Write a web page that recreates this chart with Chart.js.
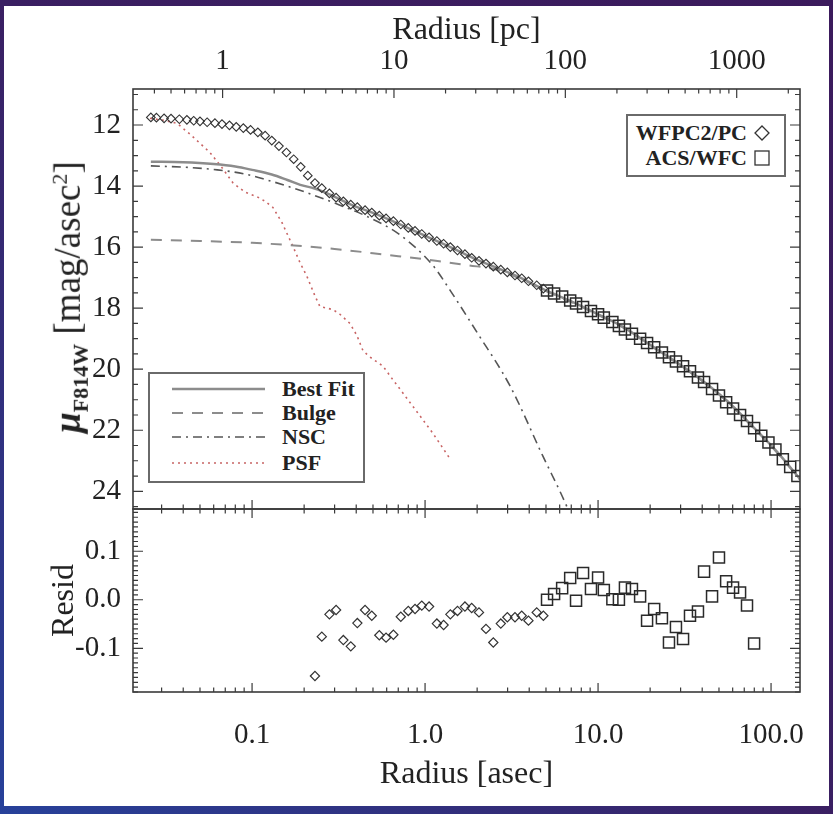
<!DOCTYPE html>
<html>
<head>
<meta charset="utf-8">
<script src="https://cdn.jsdelivr.net/npm/chart.js@4.4.0/dist/chart.umd.min.js"></script>
<style>
  html, body { margin: 0; padding: 0; }
  body {
    width: 833px; height: 814px; position: relative; overflow: hidden;
    background: linear-gradient(to bottom left, #3b1a5c 0%, #3a1f62 50%, #27419a 100%);
    font-family: "Liberation Serif", serif;
  }
  #sheet { position: absolute; left: 4px; top: 6px; width: 825px; height: 800px; background: #fff; }
  canvas { position: absolute; left: 0; top: 0; }
  #ytitle {
    position: absolute; left: 70px; top: 297px; white-space: nowrap; color: #222;
    font-size: 37px; transform: translate(-50%, -50%) rotate(-90deg);
  }
  #ytitle sub { font-size: 22px; font-weight: bold; }
  #ytitle sup { font-size: 22px; }
  .legend { position: absolute; box-sizing: border-box; border: 2px solid #6a6a6a; background: #fff; }
  .legend span { position: absolute; font: bold 22px "Liberation Serif", serif; line-height: 24px; color: #222; white-space: nowrap; }
  .legend svg { position: absolute; left: 0; top: 0; }
</style>
</head>
<body>
<div id="sheet"></div>
<canvas id="bottomCanvas" width="833" height="814"></canvas>
<canvas id="topCanvas" width="833" height="814"></canvas>
<div id="ytitle"><b><i>μ</i></b><sub>F814W</sub> [mag/asec<sup>2</sup>]</div>

<div class="legend" style="left:626px; top:114px; width:160px; height:63px;">
  <span style="right:37px; top:5px;">WFPC2/PC</span>
  <span style="right:37px; top:30px;">ACS/WFC</span>
  <svg width="156" height="59">
    <polygon points="134,10 141,17 134,24 127,17" fill="none" stroke="#333" stroke-width="1.3"/>
    <rect x="127" y="35" width="14" height="14" fill="none" stroke="#333" stroke-width="1.3"/>
  </svg>
</div>

<div class="legend" style="left:148px; top:372px; width:217px; height:111px;">
  <span style="left:132px; top:3px;">Best Fit</span>
  <span style="left:132px; top:27px;">Bulge</span>
  <span style="left:132px; top:51px;">NSC</span>
  <span style="left:132px; top:77px;">PSF</span>
  <svg width="213" height="107">
    <line x1="22" y1="15" x2="115" y2="15" stroke="#8c8c8c" stroke-width="2.5"/>
    <line x1="22" y1="39" x2="115" y2="39" stroke="#8c8c8c" stroke-width="2" stroke-dasharray="11 9"/>
    <line x1="22" y1="63" x2="115" y2="63" stroke="#555" stroke-width="1.6" stroke-dasharray="9 5 2 5"/>
    <line x1="22" y1="89" x2="115" y2="89" stroke="#c86464" stroke-width="1.6" stroke-dasharray="2 4"/>
  </svg>
</div>

<script>
// radius in arcsec, surface brightness in mag/asec^2
const wfpcRadius = [0.026, 0.028, 0.031, 0.034, 0.038, 0.042, 0.046, 0.050, 0.055, 0.061, 0.067, 0.074, 0.081, 0.089, 0.098, 0.108, 0.119, 0.130, 0.143, 0.158, 0.174, 0.191, 0.210, 0.231, 0.253, 0.280, 0.306, 0.337, 0.372, 0.406, 0.450, 0.492, 0.544, 0.595, 0.656, 0.724, 0.800, 0.875, 0.957, 1.055, 1.17, 1.28, 1.40, 1.54, 1.70, 1.86, 2.05, 2.25, 2.48, 2.74, 2.99, 3.31, 3.62, 3.96, 4.42, 4.83];
const wfpcMag = [11.75, 11.76, 11.78, 11.79, 11.81, 11.83, 11.86, 11.88, 11.91, 11.94, 11.97, 12.01, 12.06, 12.10, 12.16, 12.24, 12.35, 12.51, 12.69, 12.90, 13.12, 13.37, 13.66, 13.90, 14.07, 14.24, 14.38, 14.50, 14.61, 14.69, 14.79, 14.87, 14.97, 15.06, 15.15, 15.26, 15.37, 15.47, 15.57, 15.68, 15.80, 15.89, 16.00, 16.11, 16.23, 16.35, 16.45, 16.54, 16.64, 16.74, 16.83, 16.93, 17.02, 17.12, 17.25, 17.36];

const acsRadius = [5.07, 5.57, 6.2, 6.9, 7.46, 8.19, 9.1, 10.0, 10.8, 12.1, 13.2, 14.3, 15.7, 17.5, 19.2, 21.1, 23.4, 25.7, 28.2, 31.0, 34.0, 37.8, 41.0, 45.6, 50.0, 55.0, 60.3, 66.2, 72.6, 79.8, 87.8, 96.6, 106, 117, 129, 142];
const acsMag = [17.42, 17.52, 17.62, 17.75, 17.85, 17.96, 18.09, 18.20, 18.31, 18.45, 18.58, 18.70, 18.84, 19.00, 19.14, 19.28, 19.45, 19.61, 19.75, 19.90, 20.07, 20.27, 20.42, 20.65, 20.86, 21.08, 21.29, 21.50, 21.70, 21.93, 22.18, 22.40, 22.63, 22.95, 23.20, 23.50];

const fitRadius = [0.026, 0.04, 0.06, 0.08, 0.1, 0.13, 0.16, 0.19, 0.23, 0.28, 0.37, 0.5, 0.65, 1.0, 1.4, 2.0, 2.5, 3.5, 5, 7, 10, 14, 20, 28, 40, 56, 80, 110, 147];
const fitMag = [13.2, 13.22, 13.28, 13.36, 13.47, 13.62, 13.8, 13.96, 14.08, 14.27, 14.6, 14.88, 15.15, 15.63, 16.0, 16.42, 16.64, 16.98, 17.42, 17.78, 18.2, 18.62, 19.2, 19.75, 20.37, 21.05, 21.93, 22.75, 23.6];

const bulgeRadius = [0.026, 0.05, 0.1, 0.2, 0.3, 0.5, 0.7, 1.0, 1.34, 1.8, 2.5, 3.5, 5, 7, 10, 14, 20, 28, 40, 56, 80, 110, 147];
const bulgeMag = [15.76, 15.8, 15.86, 15.97, 16.06, 16.2, 16.3, 16.4, 16.5, 16.6, 16.72, 17.02, 17.44, 17.8, 18.22, 18.64, 19.22, 19.77, 20.39, 21.07, 21.95, 22.77, 23.62];

const nscRadius = [0.026, 0.04, 0.063, 0.09, 0.122, 0.17, 0.238, 0.33, 0.463, 0.717, 1.11, 1.39, 2.0, 3.1, 4.8, 6.6, 7.5];
const nscMag = [13.34, 13.38, 13.47, 13.6, 13.8, 14.05, 14.34, 14.65, 15.0, 15.6, 16.6, 17.4, 18.8, 20.55, 22.85, 24.5, 25.3];

const psfRadius = [0.0257, 0.0314, 0.0369, 0.0438, 0.050, 0.0571, 0.0671, 0.0776, 0.0911, 0.107, 0.119, 0.132, 0.149, 0.173, 0.189, 0.208, 0.231, 0.247, 0.271, 0.294, 0.322, 0.368, 0.404, 0.438, 0.480, 0.571, 0.643, 0.718, 0.899, 1.11, 1.40];
const psfMag = [11.78, 11.85, 11.95, 12.3, 12.6, 12.9, 13.4, 13.9, 14.2, 14.35, 14.5, 14.7, 15.2, 16.0, 16.5, 16.97, 17.6, 17.95, 18.0, 18.05, 18.2, 18.5, 18.9, 19.4, 19.6, 19.9, 20.3, 20.66, 21.4, 22.1, 22.95];

// residuals (data - fit)
const wfpcResidRadius = [0.231, 0.253, 0.280, 0.306, 0.337, 0.372, 0.406, 0.450, 0.492, 0.544, 0.595, 0.656, 0.724, 0.800, 0.875, 0.957, 1.055, 1.17, 1.28, 1.40, 1.54, 1.70, 1.86, 2.05, 2.25, 2.48, 2.74, 2.99, 3.31, 3.62, 3.96, 4.42, 4.83];
const wfpcResid = [-0.157, -0.076, -0.030, -0.021, -0.083, -0.096, -0.048, -0.021, -0.033, -0.073, -0.078, -0.072, -0.035, -0.023, -0.019, -0.012, -0.014, -0.049, -0.052, -0.030, -0.023, -0.014, -0.017, -0.026, -0.060, -0.088, -0.049, -0.036, -0.036, -0.033, -0.043, -0.026, -0.033];
const acsResidRadius = [5.07, 5.57, 6.2, 6.9, 7.46, 8.19, 9.1, 10.0, 10.8, 12.1, 13.2, 14.3, 15.7, 17.5, 19.2, 21.1, 23.4, 25.7, 28.2, 31.0, 34.0, 37.8, 41.0, 45.6, 50.0, 55.0, 60.3, 66.2, 72.6, 79.8];
const acsResid = [0.000, 0.012, 0.024, 0.045, -0.002, 0.055, 0.022, 0.046, 0.020, 0.001, 0.000, 0.025, 0.022, 0.007, -0.043, -0.019, -0.038, -0.088, -0.056, -0.081, -0.033, -0.024, 0.058, 0.007, 0.087, 0.038, 0.025, 0.015, -0.012, -0.090];

// axes
const asecMin = 0.0205;
const asecMax = 147;
const pcPerAsec = 1 / 0.0628;
const asecTicks = [0.1, 1, 10, 100];
const asecLabels = ["0.1", "1.0", "10.0", "100.0"];
const pcTicks = [1, 10, 100, 1000];
const pcLabels = ["1", "10", "100", "1000"];
const magTicks = [12, 14, 16, 18, 20, 22, 24];
const residTicks = [-0.1, 0, 0.1];
const residLabels = ["-0.1", "0.0", "0.1"];

Chart.defaults.font.family = "'Liberation Serif', 'Times New Roman', serif";
Chart.defaults.font.size = 29;
Chart.defaults.color = "#222";

function pts(xs, ys) {
  return xs.map((x, i) => ({ x: x, y: ys[i] }));
}

function logMinors(lo, hi) {
  const out = [];
  for (let d = Math.floor(Math.log10(lo)); d <= Math.ceil(Math.log10(hi)); d++) {
    for (let k = 2; k <= 9; k++) {
      const v = k * Math.pow(10, d);
      if (v > lo && v < hi) out.push(v);
    }
  }
  return out;
}

function stepMinors(lo, hi, step, majorEvery) {
  const out = [];
  for (let k = Math.ceil(lo / step); k <= Math.floor(hi / step); k++) {
    if (k % majorEvery !== 0) out.push(k * step);
  }
  return out;
}

// inward tick marks and the box, placed with the chart's own scales
const frameTicks = {
  id: "frameTicks",
  afterDatasetsDraw(chart, args, opts) {
    const { ctx, chartArea: a } = chart;
    ctx.save();
    ctx.strokeStyle = "#3a3a3a";
    ctx.lineWidth = 1.2;
    ctx.beginPath();
    opts.marks.forEach((m) => {
      const s = chart.scales[m.scale];
      m.values.forEach((v) => {
        const p = s.getPixelForValue(v);
        if (m.edge === "top") { ctx.moveTo(p, a.top); ctx.lineTo(p, a.top + m.len); }
        if (m.edge === "bottom") { ctx.moveTo(p, a.bottom); ctx.lineTo(p, a.bottom - m.len); }
        if (m.edge === "left") { ctx.moveTo(a.left, p); ctx.lineTo(a.left + m.len, p); }
        if (m.edge === "right") { ctx.moveTo(a.right, p); ctx.lineTo(a.right - m.len, p); }
      });
    });
    ctx.stroke();
    ctx.lineWidth = 1.6;
    ctx.strokeRect(a.left, a.top, a.right - a.left, a.bottom - a.top);
    ctx.restore();
  },
};

const asecMinor = logMinors(asecMin, asecMax);
const pcMinor = logMinors(asecMin * pcPerAsec, asecMax * pcPerAsec);
const magMinor = stepMinors(10.9, 24.5, 0.5, 4);
const residMinor = stepMinors(-0.19, 0.185, 0.01, 10);

const lineBase = { showLine: true, pointRadius: 0, fill: false };

new Chart(document.getElementById("topCanvas"), {
  type: "scatter",
  data: {
    datasets: [
      {
        label: "WFPC2/PC", data: pts(wfpcRadius, wfpcMag),
        pointStyle: "rectRot", pointRadius: 4.3, borderColor: "#333", borderWidth: 1.1, backgroundColor: "rgba(0,0,0,0)",
      },
      {
        label: "ACS/WFC", data: pts(acsRadius, acsMag),
        pointStyle: "rect", pointRadius: 7.8, borderColor: "#2a2a2a", borderWidth: 1.5, backgroundColor: "rgba(0,0,0,0)",
      },
      Object.assign({ label: "Best Fit", data: pts(fitRadius, fitMag), borderColor: "#8c8c8c", borderWidth: 2.5, cubicInterpolationMode: "monotone" }, lineBase),
      Object.assign({ label: "NSC", data: pts(nscRadius, nscMag), borderColor: "#555", borderWidth: 1.6, borderDash: [9, 5, 2, 5], cubicInterpolationMode: "monotone" }, lineBase),
      Object.assign({ label: "Bulge", data: pts(bulgeRadius, bulgeMag), borderColor: "#8c8c8c", borderWidth: 2, borderDash: [11, 9], cubicInterpolationMode: "monotone" }, lineBase),
      Object.assign({ label: "PSF", data: pts(psfRadius, psfMag), borderColor: "#c86464", borderWidth: 1.6, borderDash: [2, 4] }, lineBase),
    ],
  },
  options: {
    responsive: false,
    animation: false,
    events: [],
    layout: { padding: { left: 0, right: 33, top: 0, bottom: 305 } },
    plugins: {
      legend: { display: false },
      tooltip: { enabled: false },
      frameTicks: {
        marks: [
          { scale: "xpc", edge: "top", values: pcTicks, len: 9 },
          { scale: "xpc", edge: "top", values: pcMinor, len: 4.5 },
          { scale: "x", edge: "bottom", values: asecTicks, len: 9 },
          { scale: "x", edge: "bottom", values: asecMinor, len: 4.5 },
          { scale: "y", edge: "left", values: magTicks, len: 10 },
          { scale: "y", edge: "left", values: magMinor, len: 5 },
          { scale: "y", edge: "right", values: magTicks, len: 10 },
          { scale: "y", edge: "right", values: magMinor, len: 5 },
        ],
      },
    },
    scales: {
      x: { type: "logarithmic", min: asecMin, max: asecMax, display: false },
      xpc: {
        type: "logarithmic", position: "top",
        min: asecMin * pcPerAsec, max: asecMax * pcPerAsec,
        grid: { display: false, drawTicks: false }, border: { display: false },
        afterBuildTicks: (s) => { s.ticks = pcTicks.map((v) => ({ value: v })); },
        afterFit: (s) => { s.height = 89; },
        ticks: { padding: 10, autoSkip: false, maxRotation: 0, callback: (v) => pcLabels[pcTicks.indexOf(v)] },
        title: { display: true, text: "Radius [pc]", font: { size: 32 }, padding: { top: 11, bottom: 0 } },
      },
      y: {
        type: "linear", position: "left", reverse: true, min: 10.82, max: 24.58,
        grid: { display: false, drawTicks: false }, border: { display: false },
        afterBuildTicks: (s) => { s.ticks = magTicks.map((v) => ({ value: v })); },
        afterFit: (s) => { s.width = 133; },
        ticks: { padding: 12, autoSkip: false, callback: (v) => String(v) },
      },
    },
  },
  plugins: [frameTicks],
});

new Chart(document.getElementById("bottomCanvas"), {
  type: "scatter",
  data: {
    datasets: [
      {
        label: "WFPC2/PC", data: pts(wfpcResidRadius, wfpcResid),
        pointStyle: "rectRot", pointRadius: 4.6, borderColor: "#333", borderWidth: 1.2, backgroundColor: "rgba(0,0,0,0)",
      },
      {
        label: "ACS/WFC", data: pts(acsResidRadius, acsResid),
        pointStyle: "rect", pointRadius: 7.8, borderColor: "#2a2a2a", borderWidth: 1.5, backgroundColor: "rgba(0,0,0,0)",
      },
    ],
  },
  options: {
    responsive: false,
    animation: false,
    events: [],
    layout: { padding: { left: 0, right: 33, top: 509, bottom: 0 } },
    plugins: {
      legend: { display: false },
      tooltip: { enabled: false },
      frameTicks: {
        marks: [
          { scale: "x", edge: "top", values: asecTicks, len: 9 },
          { scale: "x", edge: "top", values: asecMinor, len: 4.5 },
          { scale: "x", edge: "bottom", values: asecTicks, len: 9 },
          { scale: "x", edge: "bottom", values: asecMinor, len: 4.5 },
          { scale: "y", edge: "left", values: residTicks, len: 10 },
          { scale: "y", edge: "left", values: residMinor, len: 5 },
          { scale: "y", edge: "right", values: residTicks, len: 10 },
          { scale: "y", edge: "right", values: residMinor, len: 5 },
        ],
      },
    },
    scales: {
      x: {
        type: "logarithmic", position: "bottom", min: asecMin, max: asecMax,
        grid: { display: false, drawTicks: false }, border: { display: false },
        afterBuildTicks: (s) => { s.ticks = asecTicks.map((v) => ({ value: v })); },
        afterFit: (s) => { s.height = 122; },
        ticks: { padding: 26, autoSkip: false, maxRotation: 0, callback: (v) => asecLabels[asecTicks.indexOf(v)] },
        title: { display: true, text: "Radius [asec]", font: { size: 32 }, padding: { top: 0, bottom: 20 } },
      },
      y: {
        type: "linear", position: "left", min: -0.19, max: 0.187,
        grid: { display: false, drawTicks: false }, border: { display: false },
        afterBuildTicks: (s) => { s.ticks = residTicks.map((v) => ({ value: v })); },
        afterFit: (s) => { s.width = 133; },
        ticks: { padding: 12, autoSkip: false, callback: (v) => residLabels[residTicks.indexOf(v)] },
        title: { display: true, text: "Resid", font: { size: 32 }, padding: { top: 45, bottom: 0 } },
      },
    },
  },
  plugins: [frameTicks],
});
</script>
</body>
</html>
